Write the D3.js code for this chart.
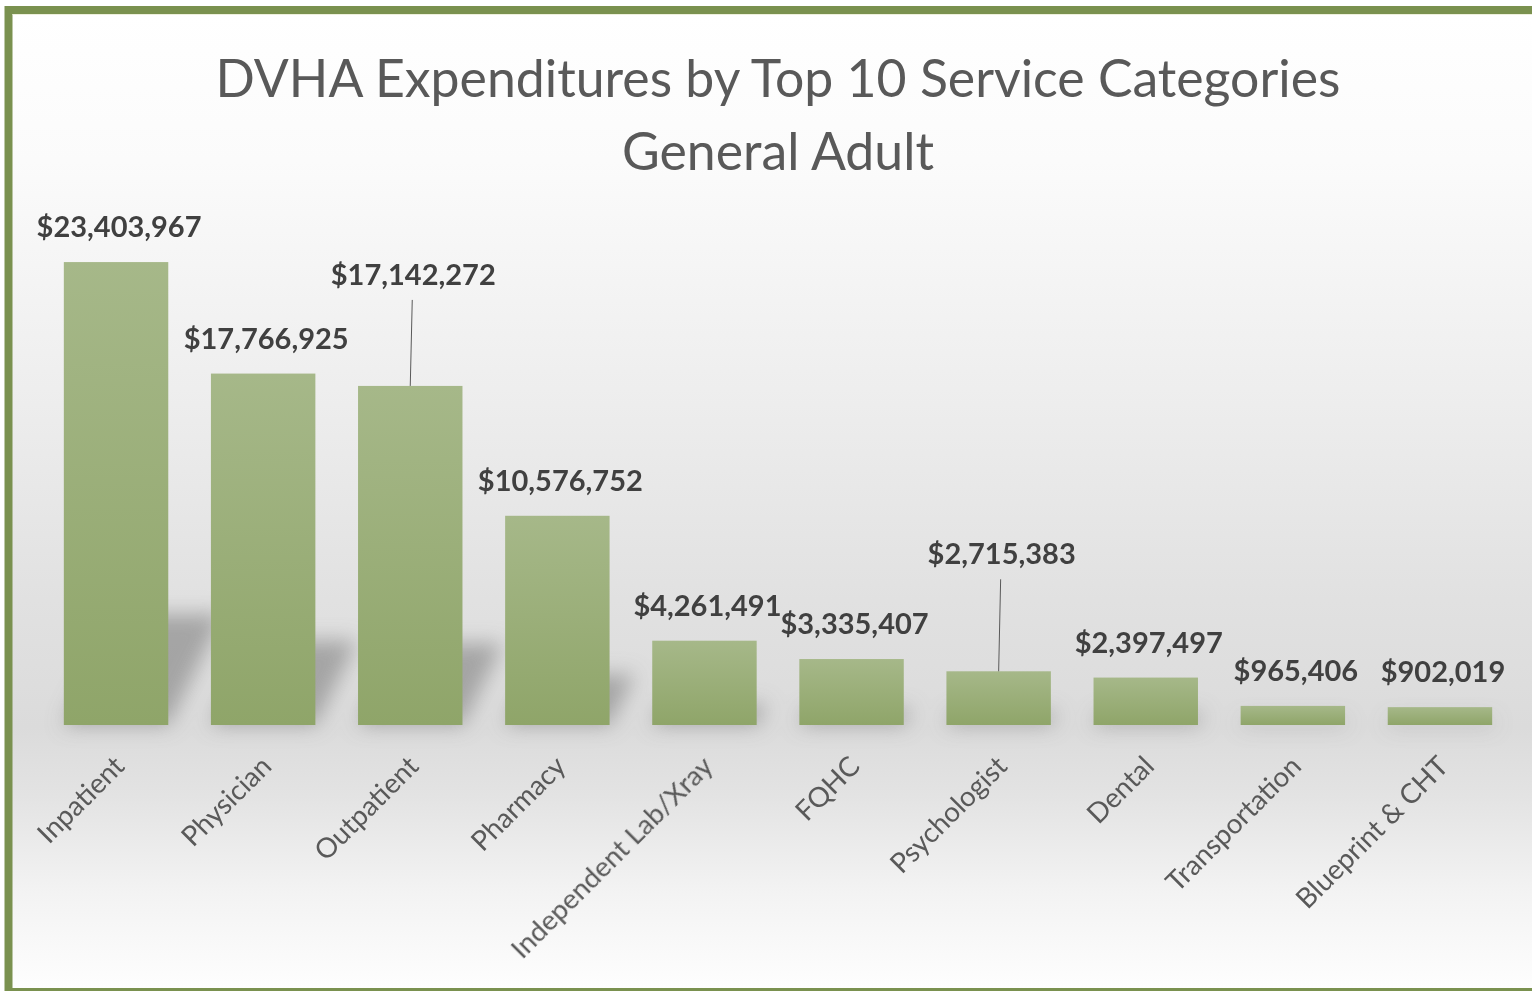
<!DOCTYPE html>
<html>
<head>
<meta charset="utf-8">
<script src="https://cdn.jsdelivr.net/npm/d3@7"></script>
<style>
  html, body { margin: 0; padding: 0; background: #ffffff; overflow: hidden; }
  svg { display: block; overflow: hidden; }
</style>
</head>
<body>
<svg id="chart" width="1532" height="991"></svg>
<script>
// ---- data ----
const categories = ["Inpatient", "Physician", "Outpatient", "Pharmacy", "Independent Lab/Xray",
  "FQHC", "Psychologist", "Dental", "Transportation", "Blueprint & CHT"];
const expenditures = [23403967, 17766925, 17142272, 10576752, 4261491,
  3335407, 2715383, 2397497, 965406, 902019];
const titleLines = ["DVHA Expenditures by Top 10 Service Categories", "General Adult"];

// label placement tweaks (extra lift for leader-line labels), styling only
const labelLift = [0, 0, 76, 0, 0, 0, 82, 0, 0, 0];

const W = 1532, H = 991;
const svg = d3.select("#chart");
const defs = svg.append("defs");

// background gradient
const bg = defs.append("linearGradient").attr("id", "bgGrad")
  .attr("gradientUnits", "userSpaceOnUse").attr("x1", 0).attr("y1", 14).attr("x2", 0).attr("y2", 991);
[[0, "#ffffff"], [0.15, "#fbfbfb"], [0.4, "#ededed"], [0.6, "#e1e1e1"], [0.73, "#dbdbdb"],
 [0.8, "#e3e3e3"], [0.9, "#f3f3f3"], [1, "#fefefe"]].forEach(([o, c]) =>
  bg.append("stop").attr("offset", o).attr("stop-color", c));

// bar gradient
const bgBar = defs.append("linearGradient").attr("id", "barGrad")
  .attr("x1", 0).attr("y1", 0).attr("x2", 0).attr("y2", 1);
bgBar.append("stop").attr("offset", 0).attr("stop-color", "#a6b889");
bgBar.append("stop").attr("offset", 1).attr("stop-color", "#8fa569");

// shadow blur
defs.append("filter").attr("id", "blur").attr("x", "-50%").attr("y", "-50%")
  .attr("width", "200%").attr("height", "200%")
  .append("feGaussianBlur").attr("stdDeviation", 10);

// background fill, then frame on top, left and bottom only (it runs off the right edge)
svg.append("rect").attr("x", 8).attr("y", 10).attr("width", W - 8).attr("height", H - 10)
  .attr("fill", "url(#bgGrad)");

// scales
const x = d3.scaleBand().domain(categories).range([42.5, 1513.5])
  .paddingInner(0.29).paddingOuter(0.145);
const y = d3.scaleLinear().domain([0, 25000000]).range([725, 230.5]);
const data = categories.map((c, i) => ({ cat: c, val: expenditures[i], i }));

// shadows
const shadowG = svg.append("g").attr("filter", "url(#blur)");
shadowG.selectAll("path").data(data).join("path")
  .attr("d", d => {
    const x0 = x(d.cat), x1 = x0 + x.bandwidth();
    const h = (y(0) - y(d.val)) * 0.24;
    const dx = h * 0.5;
    return `M${x0},${y(0)}L${x1},${y(0)}L${x1 + dx},${y(0) - h}L${x0 + dx},${y(0) - h}Z`;
  })
  .attr("fill", "#8c8c8c").attr("opacity", 0.7);

// bars
svg.append("g").selectAll("rect").data(data).join("rect")
  .attr("x", d => x(d.cat))
  .attr("y", d => y(d.val))
  .attr("width", x.bandwidth())
  .attr("height", d => y(0) - y(d.val))
  .attr("fill", "url(#barGrad)");

// fit helper
function fitSize(family, weight, text, target, base) {
  const t = svg.append("text").attr("font-family", family).attr("font-weight", weight)
    .attr("font-size", base).text(text);
  const w = t.node().getComputedTextLength();
  t.remove();
  return base * target / w;
}
const FONT = "Lato, 'Open Sans', sans-serif";
const fmt = d3.format("$,");

// title
const titleSize = fitSize(FONT, 400, titleLines[0], 1125, 50);
svg.append("g").selectAll("text").data(titleLines).join("text")
  .attr("x", 778).attr("y", (d, i) => 97 + i * 73)
  .attr("text-anchor", "middle").attr("font-family", FONT)
  .attr("font-size", titleSize).attr("fill", "#595959").text(d => d);

// value labels
const valSize = fitSize(FONT, 700, fmt(expenditures[0]), 165, 30);
const labelBase = d => y(d.val) - 25 - labelLift[d.i];
svg.append("g").selectAll("line").data(data.filter(d => labelLift[d.i] > 0)).join("line")
  .attr("x1", d => x(d.cat) + x.bandwidth() / 2 + 2)
  .attr("x2", d => x(d.cat) + x.bandwidth() / 2)
  .attr("y1", d => labelBase(d) + 15)
  .attr("y2", d => y(d.val))
  .attr("stroke", "#595959").attr("stroke-width", 1);
svg.append("g").selectAll("text").data(data).join("text")
  .attr("x", d => x(d.cat) + x.bandwidth() / 2 + 3)
  .attr("y", labelBase)
  .attr("text-anchor", "middle").attr("font-family", FONT).attr("font-weight", 700)
  .attr("font-size", valSize).attr("fill", "#404040").text(d => fmt(d.val));

// category axis labels
const catSize = fitSize(FONT, 400, "Independent Lab/Xray", 272, 30);
svg.append("g").selectAll("text").data(data).join("text")
  .attr("transform", d => `translate(${x(d.cat) + x.bandwidth() / 2 + 10},768) rotate(-45)`)
  .attr("text-anchor", "end").attr("font-family", FONT)
  .attr("font-size", catSize).attr("fill", "#595959").text(d => d.cat);

// frame: top, left and bottom sides only (it runs off the right edge)
svg.append("rect").attr("x", 1518).attr("y", 14).attr("width", 14).attr("height", 974)
  .attr("fill", "url(#bgGrad)");
svg.append("path")
  .attr("d", `M${W + 10},10 L8.5,10 L8.5,992 L${W + 10},992`)
  .attr("fill", "none").attr("stroke", "#7a914f").attr("stroke-width", 8);
svg.append("line").attr("x1", 12.5).attr("x2", W).attr("y1", 14.5).attr("y2", 14.5)
  .attr("stroke", "#eef0dc").attr("stroke-width", 1);
</script>
</body>
</html>
